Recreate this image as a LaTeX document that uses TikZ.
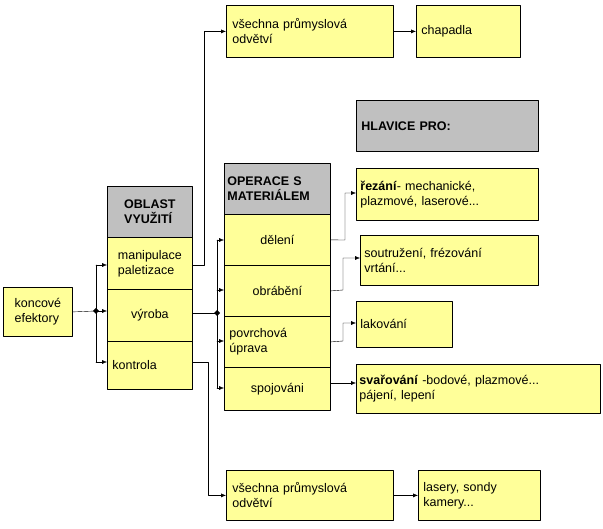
\documentclass[tikz,border=0pt]{standalone}
\usepackage{fontspec}
\setmainfont{Liberation Sans}
\usetikzlibrary{arrows.meta}
\definecolor{boxyellow}{HTML}{FFFF99}
\definecolor{boxgray}{HTML}{C0C0C0}
\tikzset{
  cell/.style={draw, thick, fill=boxyellow, inner sep=3pt},
  head/.style={draw, thick, fill=boxgray, inner sep=3pt, font=\fontsize{12.5}{15}\selectfont\bfseries},
  link/.style={-{Latex[length=5pt,width=4pt]}},
}
\begin{document}
\begin{tikzpicture}[x=1pt, y=-1pt, font=\fontsize{12.5}{15}\selectfont, line cap=round, line join=round]
\useasboundingbox (0,0) rectangle (603,529);
%\draw[help lines] (0,0) grid[step=50] (603,529);

% left column
\node[cell, minimum width=69pt, minimum height=49pt, align=left, anchor=north west] (efektory) at (3,287) {koncové\\efektory};
\node[head, minimum width=85pt, minimum height=51pt, align=left, anchor=north west] (oblast) at (107,186) {OBLAST\\VYUŽITÍ};
\node[cell, minimum width=85pt, minimum height=52pt, align=left, anchor=north west, inner sep=1pt] (manip) at (107,237) {manipulace\\paletizace};
\node[cell, minimum width=85pt, minimum height=52pt, anchor=north west] (vyroba) at (107,289) {výroba};
\node[cell, minimum width=85pt, minimum height=48pt, anchor=north west, align=left, text width=75pt] (kontrola) at (107,341) {kontrola\\[16pt]};

% top and bottom rows
\node[cell, minimum width=167pt, minimum height=52pt, anchor=north west, align=left, text width=155pt] (vsechnaT) at (226,5) {všechna průmyslová\\odvětví};
\node[cell, minimum width=104pt, minimum height=52pt, anchor=north west, text width=94pt, align=left] (chapadla) at (416,5) {chapadla};
\node[cell, minimum width=167pt, minimum height=50pt, anchor=north west, align=left, text width=155pt] (vsechnaB) at (226,470) {všechna průmyslová\\odvětví};
\node[cell, minimum width=122pt, minimum height=50pt, anchor=north west, align=left, text width=112pt] (lasery) at (418,470) {lasery, sondy\\kamery...};

% operations column
\node[head, minimum width=106pt, minimum height=51pt, anchor=north west, align=left, text width=100pt] (operace) at (224,163) {OPERACE S\\MATERIÁLEM\\[2pt]};
\node[cell, minimum width=106pt, minimum height=51pt, anchor=north west] (deleni) at (224,214) {dělení};
\node[cell, minimum width=106pt, minimum height=51pt, anchor=north west] (obrabeni) at (224,265) {obrábění};
\node[cell, minimum width=106pt, minimum height=51pt, anchor=north west, align=left, text width=96pt] (povrch) at (224,316) {povrchová\\úprava};
\node[cell, minimum width=106pt, minimum height=43pt, anchor=north west] (spojovani) at (224,367) {spojováni};

% heads column
\node[head, minimum width=182pt, minimum height=51pt, anchor=north west, align=left, text width=172pt] (hlavice) at (356,100) {HLAVICE PRO:\\[10pt]};
\node[cell, minimum width=182pt, minimum height=52pt, anchor=north west, align=left, text width=174pt] (rezani) at (356,168) {\textbf{řezání}- mechanické,\\plazmové, laserové...};
\node[cell, minimum width=178pt, minimum height=50pt, anchor=north west, align=left, text width=170pt] (soustr) at (360,235) {soutružení, frézování\\vrtání...};
\node[cell, minimum width=96pt, minimum height=46pt, anchor=north west, align=left, text width=88pt] (lakovani) at (356,301) {lakování\\[10pt]};
\node[cell, minimum width=244pt, minimum height=49pt, anchor=north west, align=left, text width=238pt] (svarovani) at (356,364) {\textbf{svařování} -bodové, plazmové...\\pájení, lepení};

% junctions
\coordinate (j1) at (96,311);
\coordinate (j2) at (217,313);
\draw (efektory.east) -- (j1);
\fill (j1) +(-3,0) -- +(0,-3) -- +(3,0) -- +(0,3) -- cycle;
\draw (96,265) -- (96,362);
\draw[link] (96,265) -- (manip.west |- 0,265);
\draw[link] (j1) -- (vyroba.west |- j1);
\draw[link] (96,362) -- (kontrola.west |- 0,362);

\draw[link] (manip.east |- 0,265) -- (204,265) |- (vsechnaT.west);
\draw[link] (kontrola.east |- 0,362) -- (208,362) |- (vsechnaB.west);
\draw[link] (vsechnaT) -- (chapadla);
\draw[link] (vsechnaB) -- (lasery);

\draw (vyroba.east |- j2) -- (j2);
\fill (j2) +(-3,0) -- +(0,-3) -- +(3,0) -- +(0,3) -- cycle;
\draw (217,240) -- (217,388);
\foreach \n/\y in {deleni/240, obrabeni/290, povrch/341, spojovani/388}
  \draw[link] (217,\y) -- (\n.west |- 0,\y);

\draw[link] (deleni.east) -- (345,240) |- (rezani.west |- 0,193);
\draw[link] (obrabeni.east) -- (343,290) |- (soustr.west |- 0,258);
\draw[link] (povrch.east) -- (343,341) |- (lakovani.west |- 0,323);
\draw[link] (spojovani.east |- 0,383) -- (svarovani.west |- 0,383);
\end{tikzpicture}
\end{document}
